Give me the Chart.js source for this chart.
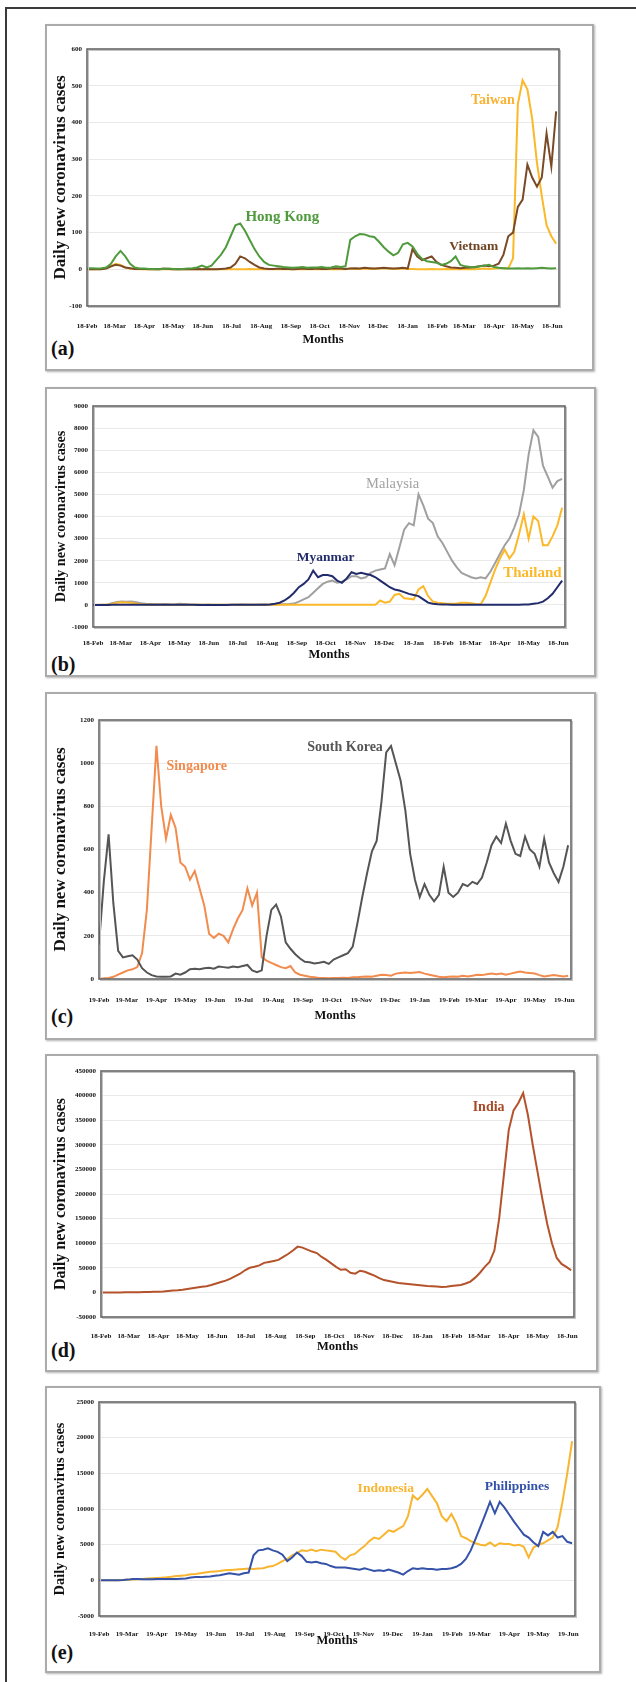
<!DOCTYPE html>
<html>
<head>
<meta charset="utf-8">
<script src="https://cdn.jsdelivr.net/npm/chart.js@4.4.1/dist/chart.umd.min.js"></script>
<style>
  html, body { margin: 0; padding: 0; background: #fff; }
  body { position: relative; width: 636px; height: 1682px; overflow: hidden; }
  .frame { position: absolute; left: 5px; top: 7px; width: 700px; height: 1800px;
           border-top: 2px solid #3a3a3a; border-left: 2px solid #3a3a3a; }
  .panel { position: absolute; box-sizing: border-box; border: 2px solid #ababab;
           box-shadow: 1px 1px 2px rgba(0,0,0,.3); background: #fff; }
  canvas { position: absolute; }
  .tag { position: absolute; font: bold 20px "Liberation Serif", serif; color: #111; line-height: 20px; }
</style>
</head>
<body>
<div class="frame"></div>
<script>
// days counted from 18-Feb-2020, one point every 5 days
const days = [0,5,10,15,20,25,30,35,40,45,50,55,60,65,70,75,80,85,90,95,
  100,105,110,115,120,125,130,135,140,145,150,155,160,165,170,175,180,185,190,195,
  200,205,210,215,220,225,230,235,240,245,250,255,260,265,270,275,280,285,290,295,
  300,305,310,315,320,325,330,335,340,345,350,355,360,365,370,375,380,385,390,395,
  400,405,410,415,420,425,430,435,440,445,450,455,460,465,470,475,480,485,490];

// tick positions (days) and their labels
const monthDays = [0,29,60,90,121,151,182,213,243,274,304,335,366,394,425,455,486];
const months18 = ['18-Feb','18-Mar','18-Apr','18-May','18-Jun','18-Jul','18-Aug','18-Sep','18-Oct',
  '18-Nov','18-Dec','18-Jan','18-Feb','18-Mar','18-Apr','18-May','18-Jun'];
const months19 = ['19-Feb','19-Mar','19-Apr','19-May','19-Jun','19-Jul','19-Aug','19-Sep','19-Oct',
  '19-Nov','19-Dec','19-Jan','19-Feb','19-Mar','19-Apr','19-May','19-Jun'];

/* (a) */
const hongKong = [3,3,2,3,5,15,35,50,35,15, 5,2,2,1,1,0,1,2,1,0, 1,2,3,5,10,5,10,25,40,60,
  90,120,125,105,80,55,35,20,12,10, 8,6,5,4,5,6,4,5,5,6, 4,5,8,6,8,80,90,96,95,90,
  88,75,60,48,38,45,68,72,62,42, 28,22,20,18,12,15,22,35,12,8, 6,5,8,10,12,6,4,3,2,2,
  3,2,3,2,3,4,3,2,3];
const vietnam = [0,0,0,0,2,8,12,10,5,3, 1,1,1,0,1,0,2,1,0,0, 1,0,0,1,0,1,0,0,1,2,
  5,15,35,30,20,12,5,2,1,1, 2,1,1,0,1,2,1,1,2,1, 1,2,3,2,1,2,3,2,4,3,
  2,3,4,3,2,3,4,2,55,35, 25,30,35,20,12,8,5,4,3,4, 5,6,8,10,8,10,15,40,90,100,
  170,190,285,250,225,250,370,280,430];
const taiwan = [0,0,0,1,3,8,15,12,5,2, 1,0,1,0,0,0,0,1,0,0, 0,0,0,0,0,0,0,0,1,0,
  0,0,0,0,1,0,0,0,0,0, 0,0,0,0,0,0,0,1,0,0, 0,0,0,0,0,2,1,1,2,1,
  1,2,3,2,1,1,2,1,1,0, 0,0,1,0,0,1,0,0,0,0, 1,0,1,2,1,2,3,3,2,30,
  450,515,490,410,290,200,120,90,70];

/* (b) */
const malaysia = [0,5,10,20,80,130,150,140,150,120, 80,50,40,30,30,40,25,20,50,40,
  20,10,15,10,20,10,10,5,10,5, 10,15,10,10,10,15,15,20,20,25,
  30,40,60,150,250,350,550,750,950,1050, 1100,1000,1050,1150,1300,1300,1200,1250,1450,1550,
  1600,1650,2300,1800,2600,3400,3700,3600,5000,4500, 3900,3700,3100,2800,2400,2000,1700,1450,1350,1250,
  1200,1250,1200,1500,1900,2300,2700,3000,3500,4100, 5200,6800,7900,7600,6300,5800,5300,5600,5700];
const myanmar = [0,0,0,0,5,10,10,5,5,5, 5,5,5,5,5,3,3,2,2,2, 2,2,1,1,1,1,1,1,1,2,
  2,3,5,5,5,5,8,20,50,100, 200,350,550,800,950,1150,1550,1250,1350,1350,
  1300,1100,1000,1200,1480,1400,1450,1400,1350,1250, 1100,950,800,700,650,580,500,450,400,250,
  100,50,30,20,15,10,8,6,5,5, 5,5,5,5,5,5,5,8,10,12, 15,20,50,80,150,300,500,800,1100];
const thailand = [0,0,5,10,40,100,120,110,100,60, 30,20,10,5,5,3,3,2,2,3, 3,2,3,5,3,5,3,3,5,3,
  3,2,3,5,3,3,5,5,3,3, 3,5,5,3,5,5,8,5,8,5, 5,5,8,5,5,8,10,8,5,10,
  200,100,150,450,500,300,280,250,700,850, 400,150,100,80,50,50,60,100,100,80,
  40,30,400,1000,1600,2100,2500,2100,2400,3200, 4100,3000,4000,3800,2700,2700,3100,3600,4400];

/* (c) */
const southKorea = [160,450,670,350,130,100,105,110,90,50, 30,18,12,10,10,12,25,20,30,45,
  48,45,50,52,48,58,55,52,58,55, 60,65,40,32,40,200,320,345,290,170,
  140,115,95,80,78,72,75,80,70,90, 100,110,120,150,260,380,490,590,640,820,
  1050,1080,1000,920,780,580,460,380,440,390, 360,390,520,400,380,400,440,430,450,440,
  470,540,620,660,630,720,640,580,570,660, 600,580,520,650,540,490,450,520,620];
const singapore = [2,3,5,10,20,30,40,45,55,120, 320,700,1080,800,650,760,700,540,520,460,
  500,420,340,210,190,210,200,170,230,280, 320,420,340,400,100,85,75,65,55,50,
  60,30,20,15,10,8,5,5,4,5, 5,6,5,8,8,10,12,10,15,20, 18,15,25,28,30,28,30,32,25,20,
  15,10,8,10,12,10,15,12,15,20, 18,22,25,22,25,20,25,30,35,30, 28,25,18,12,15,18,15,12,15];

/* (d) */
const india = [0,0,0,0,0,100,200,300,500,700,
  1000,1200,1500,2000,3000,3800,4500,5500,7000,8500,
  10000,11500,12500,15000,18000,21000,24000,28000,33000,38000,
  45000,50000,52000,55000,60000,62000,64000,66000,72000,78000,
  85000,93000,91000,87000,83000,80000,72000,66000,59000,52000,
  46000,47000,40000,38000,44000,42000,38000,34000,29000,25000,
  23000,21000,19000,18000,17000,16000,15000,14000,13000,12500,
  12000,11000,11500,13000,14000,15000,18000,22000,30000,40000,
  52000,62000,85000,150000,240000,330000,370000,385000,405000,360000,
  300000,245000,190000,140000,100000,70000,58000,52000,45000];

/* (e) */
const indonesia = [0,0,0,0,20,50,80,100,150,200, 250,300,330,370,420,500,600,650,700,850,
  900,1000,1100,1200,1250,1300,1400,1450,1500,1550, 1600,1650,1600,1650,1700,1900,2000,2300,2700,3000,
  3500,3800,4200,4100,4300,4100,4300,4200,4100,4000, 3300,2900,3500,3700,4300,4800,5500,6000,5800,6400,
  7000,6800,7200,7600,9000,11900,11300,12000,12800,11800, 10800,9000,8300,9300,8000,6200,5900,5500,5200,5000,
  4900,5300,4800,5200,5100,5100,4900,5000,4700,3200, 4600,5000,5200,5600,6000,7500,11000,15000,19500];
const philippines = [0,0,0,0,20,50,100,200,180,150, 150,160,180,200,180,200,200,220,250,400,
  450,450,500,550,650,700,850,1000,900,800, 1000,1100,3500,4200,4300,4500,4200,4000,3600,2700,
  3200,3900,3400,2600,2500,2600,2400,2300,2000,1800, 1800,1800,1700,1600,1500,1700,1500,1300,1400,1300,
  1500,1300,1100,800,1300,1700,1600,1700,1600,1600, 1500,1600,1600,1700,1900,2300,3000,4200,5800,7500,
  9200,11000,9400,11000,10200,9200,8200,7300,6400,6000, 5300,4800,6800,6300,6800,6000,6200,5400,5200];

const SERIF = '"Liberation Serif", "Times New Roman", serif';

// dark border round the plot area
const framePlugin = {
  id: 'plotFrame',
  afterDatasetsDraw(chart) {
    const { ctx, chartArea: a } = chart;
    ctx.save();
    ctx.strokeStyle = '#c4c4c4';
    ctx.lineWidth = 1;
    ctx.strokeRect(a.left + 1.5, a.top + 1.5, a.right - a.left, a.bottom - a.top);
    ctx.strokeStyle = '#666';
    ctx.lineWidth = 1.6;
    ctx.strokeRect(a.left, a.top, a.right - a.left, a.bottom - a.top);
    ctx.restore();
  }
};

// country names written inside the plot
const namePlugin = {
  id: 'seriesNames',
  afterDraw(chart, args, opts) {
    const { ctx, scales: { x, y } } = chart;
    ctx.save();
    ctx.textAlign = 'center';
    ctx.textBaseline = 'middle';
    (opts.items || []).forEach(n => {
      ctx.font = (n.weight || 'bold') + ' ' + n.size + 'px ' + SERIF;
      ctx.fillStyle = n.color;
      ctx.fillText(n.text, x.getPixelForValue(n.day), y.getPixelForValue(n.value));
    });
    ctx.restore();
  }
};

function makePanel(p) {
  const [bx, by, bw, bh] = p.box;
  const [pl, pt, pr, pb] = p.plot;

  const box = document.createElement('div');
  box.className = 'panel';
  Object.assign(box.style, { left: bx + 'px', top: by + 'px', width: bw + 'px', height: bh + 'px' });
  document.body.appendChild(box);

  const tag = document.createElement('div');
  tag.className = 'tag';
  tag.textContent = p.tag;
  tag.style.left = '51px';
  tag.style.top = (p.tagY - 10) + 'px';
  document.body.appendChild(tag);

  const cv = document.createElement('canvas');
  cv.width = bw;
  cv.height = bh;
  cv.style.left = bx + 'px';
  cv.style.top = by + 'px';
  document.body.appendChild(cv);

  const tickSize = 7, monthSize = 12.5;

  new Chart(cv, {
    type: 'line',
    data: {
      labels: days,
      datasets: p.series.map(s => ({
        label: s.name, data: s.data, borderColor: s.color, borderWidth: 2,
        pointRadius: 0, fill: false, tension: 0
      }))
    },
    options: {
      responsive: false,
      animation: false,
      layout: { padding: { left: 0, top: pt - by, right: bx + bw - pr, bottom: 0 } },
      plugins: {
        legend: { display: false },
        tooltip: { enabled: false },
        seriesNames: { items: p.names }
      },
      scales: {
        x: {
          type: 'linear', min: 0, max: 493,
          grid: { display: false },
          border: { display: false },
          afterBuildTicks: ax => { ax.ticks = monthDays.map(v => ({ value: v })); },
          ticks: {
            autoSkip: false, maxRotation: 0,
            padding: p.tickY - pb - tickSize * 0.6,
            font: { family: SERIF, size: tickSize, weight: 'bold' }, color: '#111',
            callback: (v, i) => p.monthNames[i]
          },
          title: {
            display: true, text: 'Months', color: '#111',
            font: { family: SERIF, size: monthSize, weight: 'bold' },
            padding: { top: 0, bottom: bh - (p.monthsY - by) - monthSize * 0.6 }
          },
          afterFit: sc => { sc.height = bh - (pb - by); }
        },
        y: {
          min: p.yMin, max: p.yMax,
          grid: { color: '#e9e9e9', lineWidth: 1, drawTicks: false },
          border: { display: false },
          ticks: {
            stepSize: p.yStep, padding: 5,
            font: { family: SERIF, size: tickSize, weight: 'bold' }, color: '#111',
            callback: v => String(v)
          },
          title: {
            display: true, text: 'Daily new coronavirus cases', color: '#111',
            font: { family: SERIF, size: p.ySize, weight: 'bold' },
            padding: { top: (p.yTitleX - bx) - p.ySize * 0.6, bottom: 0 }
          },
          afterFit: sc => { sc.width = pl - bx; }
        }
      }
    },
    plugins: [framePlugin, namePlugin]
  });
}

makePanel({
  tag: '(a)', box: [45, 24, 549, 347], plot: [87, 49, 559, 306],
  tickY: 318, monthsY: 340, tagY: 348, yTitleX: 61, ySize: 17,
  yMin: -100, yMax: 600, yStep: 100, monthNames: months18,
  series: [
    { name: 'Hong Kong', data: hongKong, color: '#4f9a3d' },
    { name: 'Vietnam', data: vietnam, color: '#7a4a26' },
    { name: 'Taiwan', data: taiwan, color: '#fbb829' }
  ],
  names: [
    { text: 'Taiwan', day: 424, value: 461, size: 14, color: '#f9b233' },
    { text: 'Hong Kong', day: 204, value: 142, size: 15, color: '#4f9a3d' },
    { text: 'Vietnam', day: 404, value: 61, size: 13.5, color: '#6e4422' }
  ]
});

makePanel({
  tag: '(b)', box: [45, 387, 551, 290], plot: [93, 406, 565, 627],
  tickY: 635, monthsY: 655, tagY: 664, yTitleX: 61, ySize: 14.3,
  yMin: -1000, yMax: 9000, yStep: 1000, monthNames: months18,
  series: [
    { name: 'Myanmar', data: myanmar, color: '#222c6b' },
    { name: 'Thailand', data: thailand, color: '#fbb829' },
    { name: 'Malaysia', data: malaysia, color: '#a0a0a0' }
  ],
  names: [
    { text: 'Malaysia', day: 313, value: 5471, size: 14.5, weight: 'normal', color: '#a3a3a3' },
    { text: 'Myanmar', day: 243, value: 2122, size: 13.5, color: '#222c6b' },
    { text: 'Thailand', day: 459, value: 1443, size: 15, color: '#fbb829' }
  ]
});

makePanel({
  tag: '(c)', box: [45, 692, 551, 348], plot: [99, 720, 571, 979],
  tickY: 992, monthsY: 1016, tagY: 1016, yTitleX: 61, ySize: 17,
  yMin: 0, yMax: 1200, yStep: 200, monthNames: months19,
  series: [
    { name: 'South Korea', data: southKorea, color: '#555555' },
    { name: 'Singapore', data: singapore, color: '#f28b4e' }
  ],
  names: [
    { text: 'South Korea', day: 257, value: 1075, size: 14, color: '#555555' },
    { text: 'Singapore', day: 102, value: 987, size: 14, color: '#f28b4e' }
  ]
});

makePanel({
  tag: '(d)', box: [45, 1054, 553, 318], plot: [101, 1071, 574, 1317],
  tickY: 1328, monthsY: 1347, tagY: 1350, yTitleX: 61, ySize: 16,
  yMin: -50000, yMax: 450000, yStep: 50000, monthNames: months18,
  series: [
    { name: 'India', data: india, color: '#b4532b' }
  ],
  names: [
    { text: 'India', day: 404, value: 376829, size: 14, color: '#a84a28' }
  ]
});

makePanel({
  tag: '(e)', box: [45, 1386, 556, 287], plot: [99, 1402, 575, 1616],
  tickY: 1626, monthsY: 1641, tagY: 1652, yTitleX: 60, ySize: 14.4,
  yMin: -5000, yMax: 25000, yStep: 5000, monthNames: months19,
  series: [
    { name: 'Philippines', data: philippines, color: '#3452a8' },
    { name: 'Indonesia', data: indonesia, color: '#f8b530' }
  ],
  names: [
    { text: 'Indonesia', day: 297, value: 12804, size: 13.5, color: '#f8b530' },
    { text: 'Philippines', day: 433, value: 13084, size: 13.5, color: '#3452a8' }
  ]
});
</script>
</body>
</html>
